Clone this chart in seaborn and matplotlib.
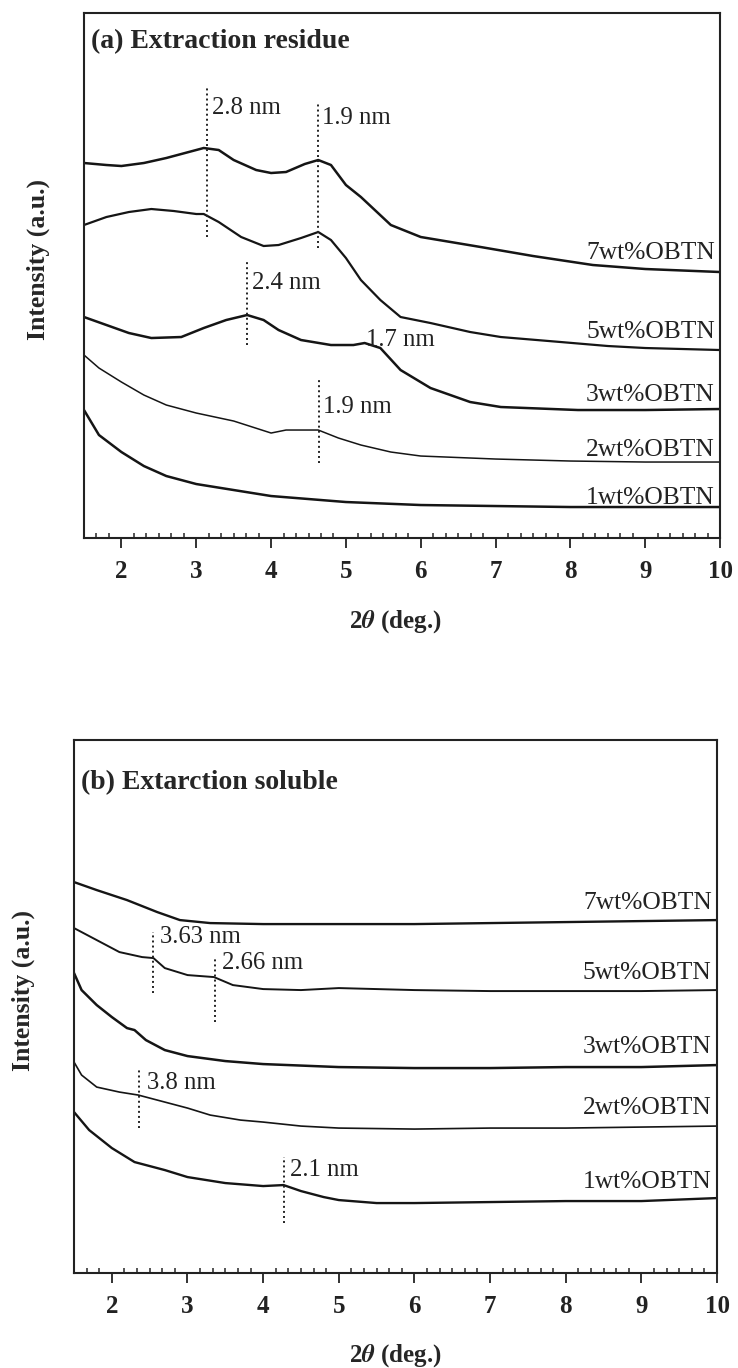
import matplotlib
matplotlib.use("Agg")
import matplotlib.pyplot as plt
import seaborn as sns
import pandas as pd
from matplotlib.ticker import FixedLocator, MultipleLocator

# ---- panel (a): extraction residue (intensity in offset a.u.) ----
res7_x = [1.5, 1.8, 2.0, 2.3, 2.6, 2.9, 3.1, 3.3, 3.5, 3.8, 4.0, 4.2, 4.45, 4.63, 4.8, 5.0, 5.2, 5.6, 6.0, 6.8, 7.5, 8.3, 9.0, 10]
res7_y = [375, 373, 372, 375, 380, 386, 390, 388, 378, 368, 365, 366, 374, 378, 373, 353, 341, 313, 301, 291, 282, 273, 269, 266]
res5_x = [1.5, 1.8, 2.1, 2.4, 2.7, 3.0, 3.1, 3.3, 3.6, 3.9, 4.1, 4.4, 4.63, 4.8, 5.0, 5.2, 5.46, 5.73, 6.13, 6.66, 7.07, 7.87, 8.5, 9.0, 10]
res5_y = [313, 321, 326, 329, 327, 324, 324, 316, 301, 292, 293, 300, 306, 298, 280, 258, 238, 221, 215, 206, 201, 196, 192, 190, 188]
res3_x = [1.5, 1.8, 2.1, 2.4, 2.8, 3.1, 3.4, 3.68, 3.9, 4.1, 4.4, 4.8, 5.1, 5.25, 5.46, 5.73, 6.13, 6.66, 7.07, 8.1, 9.0, 10]
res3_y = [221, 213, 205, 200, 201, 210, 218, 223, 218, 208, 198, 193, 193, 195, 190, 168, 150, 136, 131, 128, 128, 129]
res2_x = [1.5, 1.7, 2.0, 2.3, 2.6, 3.0, 3.5, 4.0, 4.2, 4.63, 4.9, 5.2, 5.6, 6.0, 7.0, 8.0, 9.0, 10]
res2_y = [183, 170, 156, 143, 133, 125, 117, 105, 108, 108, 100, 93, 86, 82, 79, 77, 76, 76]
res1_x = [1.5, 1.7, 2.0, 2.3, 2.6, 3.0, 3.5, 4.0, 4.5, 5.0, 6.0, 7.0, 8.0, 10]
res1_y = [128, 103, 86, 72, 62, 54, 48, 42, 39, 36, 33, 32, 31, 31]

res_markers_x = [3.14, 4.63, 3.68, 4.64]
res_markers_lo = [301, 290, 193, 75]
res_markers_hi = [450, 436, 276, 158]
res_notes = ["2.8 nm", "1.9 nm", "2.4 nm", "1.9 nm", "1.7 nm"]
res_notes_x = [3.21, 4.68, 3.74, 4.69, 5.27]
res_notes_y = [430, 420, 255, 131, 198]
res_label_y = [285, 206, 143, 88, 40]

# ---- panel (b): extraction soluble ----
sol7_x = [1.5, 1.8, 2.2, 2.6, 2.9, 3.3, 4, 5, 6, 7, 8, 9, 10]
sol7_y = [391, 383, 373, 361, 353, 350, 349, 349, 349, 350, 351, 352, 353]
sol5_x = [1.5, 1.8, 2.1, 2.4, 2.55, 2.7, 3.0, 3.35, 3.6, 4.0, 4.5, 5.0, 6.0, 7.0, 8.0, 9.0, 10]
sol5_y = [345, 333, 321, 316, 315, 305, 298, 296, 288, 284, 283, 285, 283, 282, 282, 282, 283]
sol3_x = [1.5, 1.6, 1.8, 2.0, 2.2, 2.3, 2.45, 2.7, 3.0, 3.5, 4.0, 5.0, 6.0, 7.0, 8.0, 9.0, 10]
sol3_y = [300, 283, 268, 256, 245, 243, 233, 223, 217, 212, 209, 206, 205, 205, 206, 206, 208]
sol2_x = [1.5, 1.6, 1.8, 2.1, 2.35, 2.7, 3.0, 3.3, 3.7, 4.0, 4.5, 5.0, 6.0, 7, 8, 9, 10]
sol2_y = [211, 198, 186, 181, 178, 171, 165, 158, 153, 151, 147, 145, 144, 145, 145, 146, 147]
sol1_x = [1.5, 1.7, 2.0, 2.3, 2.7, 3.0, 3.5, 4.0, 4.27, 4.5, 4.8, 5.0, 5.5, 6, 7, 8, 9, 10]
sol1_y = [161, 143, 125, 111, 103, 96, 90, 87, 88, 82, 76, 73, 70, 70, 71, 72, 72, 75]

sol_markers_x = [2.54, 3.37, 2.36, 4.27]
sol_markers_lo = [280, 251, 145, 50]
sol_markers_hi = [341, 315, 205, 116]
sol_notes = ["3.63 nm", "2.66 nm", "3.8 nm", "2.1 nm"]
sol_notes_x = [2.64, 3.46, 2.46, 4.36]
sol_notes_y = [336, 310, 190, 103]
sol_label_y = [370, 300, 226, 165, 91]

samples = ["7wt%OBTN", "5wt%OBTN", "3wt%OBTN", "2wt%OBTN", "1wt%OBTN"]
major_ticks = [2, 3, 4, 5, 6, 7, 8, 9, 10]

sns.set_theme(style="white")
plt.rcParams["font.family"] = ["Liberation Serif", "DejaVu Serif"]
plt.rcParams["mathtext.fontset"] = "stix"
plt.rcParams["axes.edgecolor"] = "#222222"

fig = plt.figure(figsize=(7.38, 13.68), dpi=100)
ax_a = fig.add_axes([0.1138, 0.6067, 0.862, 0.3838])
ax_b = fig.add_axes([0.1003, 0.0694, 0.8713, 0.3896])

panel_a = [(res7_x, res7_y, 1.8), (res5_x, res5_y, 1.6), (res3_x, res3_y, 1.8),
           (res2_x, res2_y, 1.1), (res1_x, res1_y, 1.8)]
panel_b = [(sol7_x, sol7_y, 1.7), (sol5_x, sol5_y, 1.4), (sol3_x, sol3_y, 1.8),
           (sol2_x, sol2_y, 1.2), (sol1_x, sol1_y, 1.7)]


def draw_panel(ax, curves, mx, mlo, mhi, notes, nx, ny, label_y, title, title_y, ytop):
    for (xs, ys, lw), name in zip(curves, samples):
        df = pd.DataFrame({"two_theta": xs, "intensity": ys})
        sns.lineplot(data=df, x="two_theta", y="intensity", ax=ax, color="#151515",
                     linewidth=lw, sort=False, estimator=None)
    for x, lo, hi in zip(mx, mlo, mhi):
        ax.plot([x, x], [lo, hi], color="#222222", lw=1.4, linestyle=(0, (1, 1.6)))
    for t, x, y in zip(notes, nx, ny):
        ax.text(x, y, t, fontsize=17.8, va="center", ha="left", color="#222222")
    for name, y in zip(samples, label_y):
        ax.text(9.93, y, name, fontsize=18.4, va="center", ha="right", color="#222222")
    ax.text(0.011, title_y, title, transform=ax.transAxes, fontsize=20,
            fontweight="bold", va="center", ha="left")

    ax.set_xlim(1.5, 10)
    ax.set_ylim(0, ytop)
    ax.set_yticks([])
    ax.xaxis.set_major_locator(FixedLocator(major_ticks))
    ax.xaxis.set_minor_locator(MultipleLocator(1 / 6))
    ax.tick_params(axis="x", which="major", direction="out", length=7, width=1.3,
                   bottom=True, top=False, labelsize=18, pad=9, colors="#222222")
    ax.tick_params(axis="x", which="minor", direction="in", length=3.6, width=1.1,
                   bottom=True, top=False)
    for lbl in ax.get_xticklabels():
        lbl.set_fontweight("bold")
    for sp in ax.spines.values():
        sp.set_linewidth(1.5)
        sp.set_color("#222222")
    ax.set_xlabel(r"2$\mathbfit{\theta}$ (deg.)", fontsize=18, fontweight="bold")
    ax.set_ylabel("Intensity (a.u.)", fontsize=18.5, fontweight="bold")
    ax.yaxis.set_label_coords(-0.053, 0.53)


draw_panel(ax_a, panel_a, res_markers_x, res_markers_lo, res_markers_hi,
           res_notes, res_notes_x, res_notes_y, res_label_y,
           "(a) Extraction residue", 0.945, 525)
ax_a.xaxis.set_label_coords(0.49, -0.133)

draw_panel(ax_b, panel_b, sol_markers_x, sol_markers_lo, sol_markers_hi,
           sol_notes, sol_notes_x, sol_notes_y, sol_label_y,
           "(b) Extarction soluble", 0.921, 533)
ax_b.xaxis.set_label_coords(0.50, -0.129)
ax_b.yaxis.set_label_coords(-0.06, 0.53)

fig.savefig("out.png", dpi=100, facecolor="white")
